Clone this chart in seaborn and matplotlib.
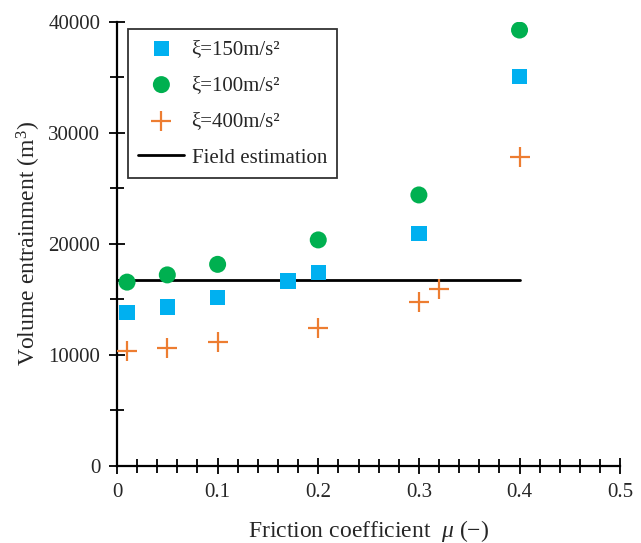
import matplotlib
matplotlib.use("Agg")
import matplotlib.pyplot as plt
import seaborn as sns
from matplotlib.ticker import MultipleLocator

# friction coefficient vs volume entrainment
mu_150 = [0.01, 0.05, 0.1, 0.17, 0.2, 0.3, 0.4]
vol_150 = [13800, 14300, 15150, 16650, 17400, 20900, 35050]

mu_100 = [0.01, 0.05, 0.1, 0.2, 0.3, 0.4]
vol_100 = [16550, 17200, 18150, 20350, 24400, 39250]

mu_400 = [0.01, 0.05, 0.1, 0.2, 0.3, 0.32, 0.4]
vol_400 = [10350, 10650, 11200, 12400, 14750, 15950, 27850]

field_mu = [0.0, 0.4]
field_vol = [16750, 16750]

labels = ["ξ=150m/s²", "ξ=100m/s²", "ξ=400m/s²", "Field estimation"]

sns.set_style("ticks")
plt.rcParams["font.family"] = ["Liberation Serif", "DejaVu Serif"]
plt.rcParams["mathtext.fontset"] = "custom"
plt.rcParams["mathtext.rm"] = "Liberation Serif"
plt.rcParams["mathtext.it"] = "Liberation Serif:italic"

fig = plt.figure(figsize=(6.41, 5.43), dpi=100)
ax = fig.add_axes([0.1825, 0.142, 0.785, 0.818])

sns.scatterplot(x=mu_150, y=vol_150, ax=ax, marker="s", s=120, color="#00B0F0",
                edgecolor="none", label=labels[0], zorder=3)
sns.scatterplot(x=mu_100, y=vol_100, ax=ax, marker="o", s=150, color="#00B050",
                edgecolor="none", label=labels[1], zorder=3)
sns.scatterplot(x=mu_400, y=vol_400, ax=ax, marker="+", s=220, color="#ED7D31",
                linewidth=1.6, label=labels[2], zorder=3)
sns.lineplot(x=field_mu, y=field_vol, ax=ax, color="black", linewidth=2,
             label=labels[3], zorder=2)

ax.set_xlim(0, 0.5)
ax.set_ylim(0, 40000)
ax.xaxis.set_major_locator(MultipleLocator(0.1))
ax.xaxis.set_minor_locator(MultipleLocator(0.02))
ax.yaxis.set_major_locator(MultipleLocator(10000))
ax.yaxis.set_minor_locator(MultipleLocator(5000))
ax.xaxis.set_major_formatter(plt.FuncFormatter(lambda v, p: "0" if v == 0 else f"{v:g}"))

ax.tick_params(which="major", direction="inout", length=12, width=1.3,
               labelsize=15, color="black", pad=6)
ax.tick_params(which="minor", direction="inout", length=10, width=1.3, color="black")

sns.despine(ax=ax)
for sp in ["left", "bottom"]:
    ax.spines[sp].set_linewidth(1.6)
    ax.spines[sp].set_color("black")

ax.set_xlabel("Friction coefficient  $\\mu\\ (-)$", fontsize=17, labelpad=12)
ax.set_ylabel("Volume entrainment (m$^3$)", fontsize=17, labelpad=4)

leg = ax.legend(loc="upper left", bbox_to_anchor=(0.022, 0.984), fontsize=15,
                frameon=True, fancybox=False, edgecolor="black",
                labelspacing=0.8, handlelength=2.2, borderpad=0.5,
                handletextpad=0.35, borderaxespad=0)
leg.get_frame().set_linewidth(1.3)

fig.savefig("out.png", dpi=100)
